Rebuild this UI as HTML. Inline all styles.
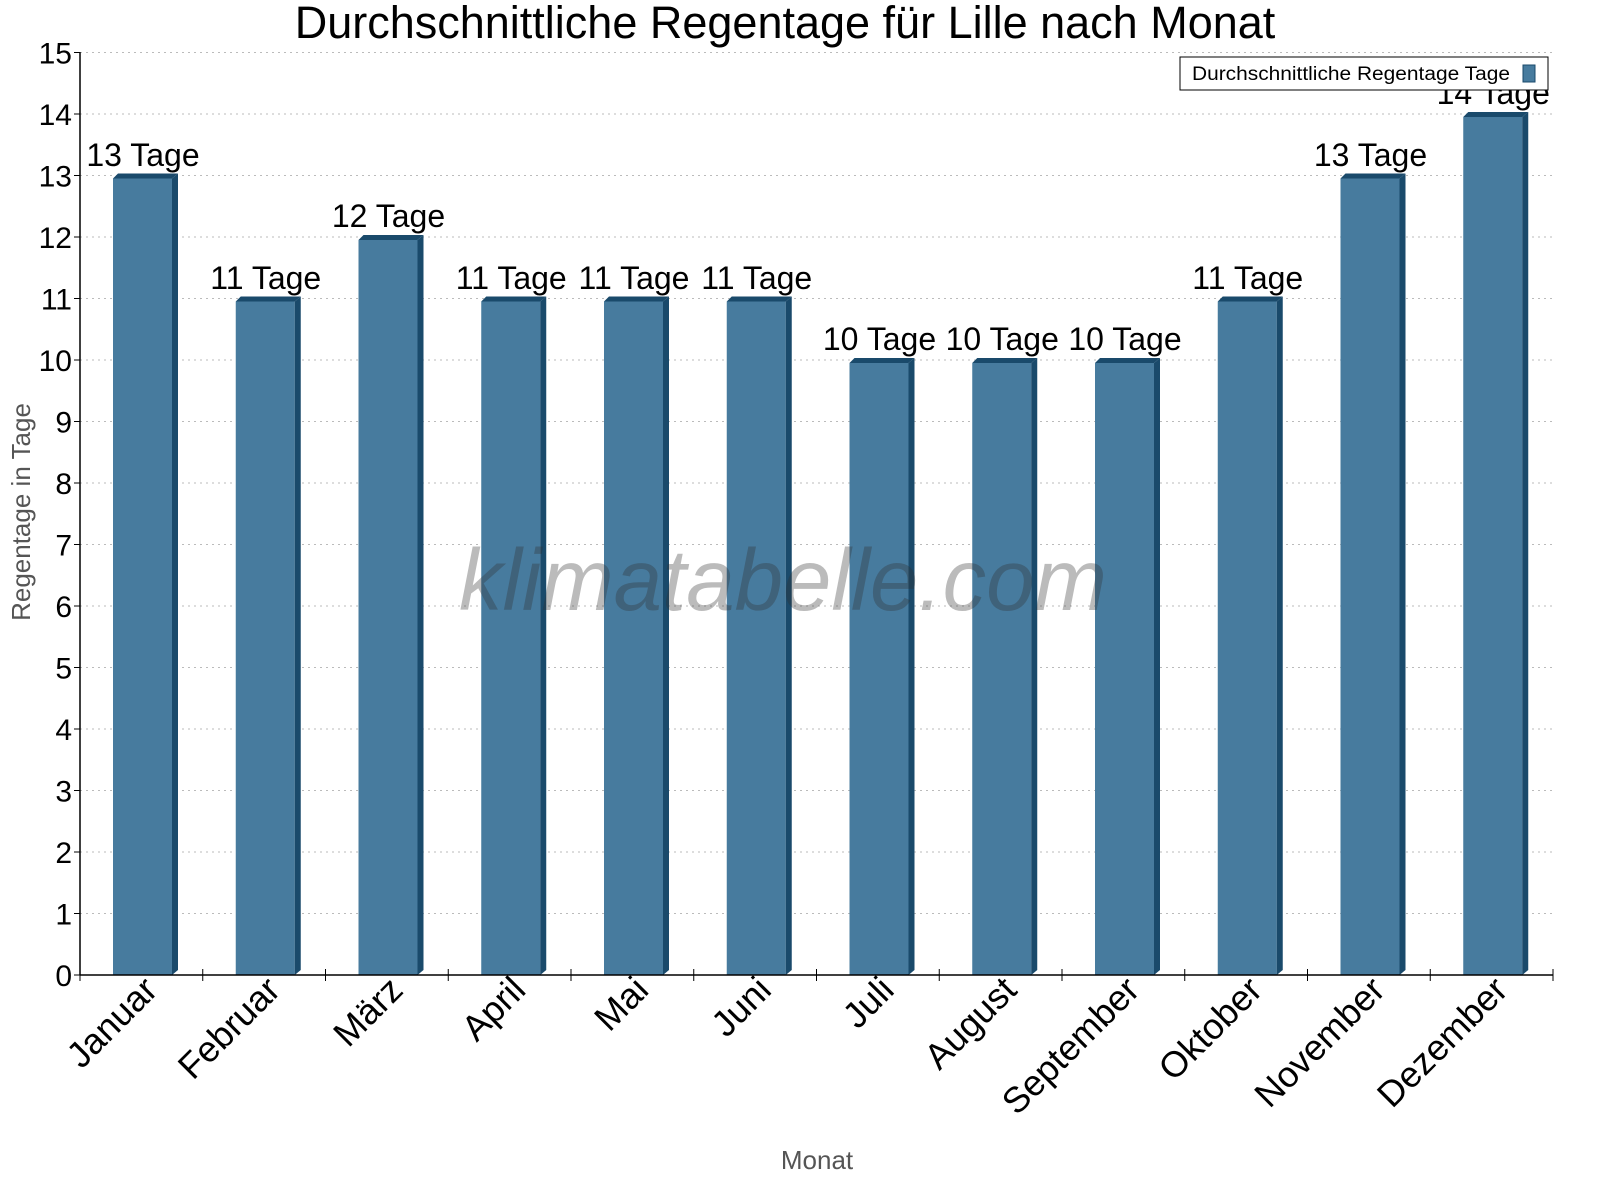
<!DOCTYPE html>
<html><head><meta charset="utf-8"><style>html,body{margin:0;padding:0;background:#fff;overflow:hidden}svg{display:block}</style></head><body>
<svg width="1600" height="1200" viewBox="0 0 1600 1200" xmlns="http://www.w3.org/2000/svg" font-family="Liberation Sans, sans-serif">
<rect width="1600" height="1200" fill="#fff"/>
<text x="785" y="38" font-size="45" text-anchor="middle" fill="#000">Durchschnittliche Regentage für Lille nach Monat</text>
<g stroke="#bbb" stroke-dasharray="2,4" stroke-width="1">
<line x1="80" x2="1553" y1="913.5" y2="913.5"/><line x1="80" x2="1553" y1="852" y2="852"/><line x1="80" x2="1553" y1="790.5" y2="790.5"/><line x1="80" x2="1553" y1="729" y2="729"/><line x1="80" x2="1553" y1="667.5" y2="667.5"/><line x1="80" x2="1553" y1="606" y2="606"/><line x1="80" x2="1553" y1="544.5" y2="544.5"/><line x1="80" x2="1553" y1="483" y2="483"/><line x1="80" x2="1553" y1="421.5" y2="421.5"/><line x1="80" x2="1553" y1="360" y2="360"/><line x1="80" x2="1553" y1="298.5" y2="298.5"/><line x1="80" x2="1553" y1="237" y2="237"/><line x1="80" x2="1553" y1="175.5" y2="175.5"/><line x1="80" x2="1553" y1="114" y2="114"/><line x1="80" x2="1553" y1="52.5" y2="52.5"/>
</g>
<g>
<g transform="translate(113,0)"><rect x="0" y="178.5" width="59" height="796.5" fill="#477b9e"/><polygon points="59,178.5 65,173.5 65,970 59,975" fill="#1a4a6b"/><polygon points="0,178.5 5,173.5 65,173.5 59,178.5" fill="#1a4a6b"/></g>
<g transform="translate(235.75,0)"><rect x="0" y="301.5" width="59" height="673.5" fill="#477b9e"/><polygon points="59,301.5 65,296.5 65,970 59,975" fill="#1a4a6b"/><polygon points="0,301.5 5,296.5 65,296.5 59,301.5" fill="#1a4a6b"/></g>
<g transform="translate(358.5,0)"><rect x="0" y="240" width="59" height="735" fill="#477b9e"/><polygon points="59,240 65,235 65,970 59,975" fill="#1a4a6b"/><polygon points="0,240 5,235 65,235 59,240" fill="#1a4a6b"/></g>
<g transform="translate(481.25,0)"><rect x="0" y="301.5" width="59" height="673.5" fill="#477b9e"/><polygon points="59,301.5 65,296.5 65,970 59,975" fill="#1a4a6b"/><polygon points="0,301.5 5,296.5 65,296.5 59,301.5" fill="#1a4a6b"/></g>
<g transform="translate(604,0)"><rect x="0" y="301.5" width="59" height="673.5" fill="#477b9e"/><polygon points="59,301.5 65,296.5 65,970 59,975" fill="#1a4a6b"/><polygon points="0,301.5 5,296.5 65,296.5 59,301.5" fill="#1a4a6b"/></g>
<g transform="translate(726.75,0)"><rect x="0" y="301.5" width="59" height="673.5" fill="#477b9e"/><polygon points="59,301.5 65,296.5 65,970 59,975" fill="#1a4a6b"/><polygon points="0,301.5 5,296.5 65,296.5 59,301.5" fill="#1a4a6b"/></g>
<g transform="translate(849.5,0)"><rect x="0" y="363" width="59" height="612" fill="#477b9e"/><polygon points="59,363 65,358 65,970 59,975" fill="#1a4a6b"/><polygon points="0,363 5,358 65,358 59,363" fill="#1a4a6b"/></g>
<g transform="translate(972.25,0)"><rect x="0" y="363" width="59" height="612" fill="#477b9e"/><polygon points="59,363 65,358 65,970 59,975" fill="#1a4a6b"/><polygon points="0,363 5,358 65,358 59,363" fill="#1a4a6b"/></g>
<g transform="translate(1095,0)"><rect x="0" y="363" width="59" height="612" fill="#477b9e"/><polygon points="59,363 65,358 65,970 59,975" fill="#1a4a6b"/><polygon points="0,363 5,358 65,358 59,363" fill="#1a4a6b"/></g>
<g transform="translate(1217.75,0)"><rect x="0" y="301.5" width="59" height="673.5" fill="#477b9e"/><polygon points="59,301.5 65,296.5 65,970 59,975" fill="#1a4a6b"/><polygon points="0,301.5 5,296.5 65,296.5 59,301.5" fill="#1a4a6b"/></g>
<g transform="translate(1340.5,0)"><rect x="0" y="178.5" width="59" height="796.5" fill="#477b9e"/><polygon points="59,178.5 65,173.5 65,970 59,975" fill="#1a4a6b"/><polygon points="0,178.5 5,173.5 65,173.5 59,178.5" fill="#1a4a6b"/></g>
<g transform="translate(1463.25,0)"><rect x="0" y="117" width="59" height="858" fill="#477b9e"/><polygon points="59,117 65,112 65,970 59,975" fill="#1a4a6b"/><polygon points="0,117 5,112 65,112 59,117" fill="#1a4a6b"/></g>
</g>
<text x="783" y="610" font-size="87" font-style="italic" text-anchor="middle" fill="rgba(50,50,50,0.33)">klimatabelle.com</text>
<g font-size="32" text-anchor="middle">
<text x="143" y="166">13 Tage</text><text x="265.75" y="289">11 Tage</text><text x="388.5" y="227">12 Tage</text><text x="511.25" y="289">11 Tage</text><text x="634" y="289">11 Tage</text><text x="756.75" y="289">11 Tage</text><text x="879.5" y="350">10 Tage</text><text x="1002.25" y="350">10 Tage</text><text x="1125" y="350">10 Tage</text><text x="1247.75" y="289">11 Tage</text><text x="1370.5" y="166">13 Tage</text><text x="1493.25" y="104">14 Tage</text>
</g>
<line x1="80" y1="52" x2="80" y2="975" stroke="#000" stroke-width="1.5"/>
<line x1="80" y1="975" x2="1553" y2="975" stroke="#000" stroke-width="1.5"/>
<g stroke="#000" stroke-width="1">
<line x1="74" x2="80" y1="975" y2="975"/><line x1="74" x2="80" y1="913.5" y2="913.5"/><line x1="74" x2="80" y1="852" y2="852"/><line x1="74" x2="80" y1="790.5" y2="790.5"/><line x1="74" x2="80" y1="729" y2="729"/><line x1="74" x2="80" y1="667.5" y2="667.5"/><line x1="74" x2="80" y1="606" y2="606"/><line x1="74" x2="80" y1="544.5" y2="544.5"/><line x1="74" x2="80" y1="483" y2="483"/><line x1="74" x2="80" y1="421.5" y2="421.5"/><line x1="74" x2="80" y1="360" y2="360"/><line x1="74" x2="80" y1="298.5" y2="298.5"/><line x1="74" x2="80" y1="237" y2="237"/><line x1="74" x2="80" y1="175.5" y2="175.5"/><line x1="74" x2="80" y1="114" y2="114"/><line x1="74" x2="80" y1="52.5" y2="52.5"/>
<line x1="80" x2="80" y1="969" y2="981"/><line x1="202.75" x2="202.75" y1="969" y2="981"/><line x1="325.5" x2="325.5" y1="969" y2="981"/><line x1="448.25" x2="448.25" y1="969" y2="981"/><line x1="571" x2="571" y1="969" y2="981"/><line x1="693.75" x2="693.75" y1="969" y2="981"/><line x1="816.5" x2="816.5" y1="969" y2="981"/><line x1="939.25" x2="939.25" y1="969" y2="981"/><line x1="1062" x2="1062" y1="969" y2="981"/><line x1="1184.75" x2="1184.75" y1="969" y2="981"/><line x1="1307.5" x2="1307.5" y1="969" y2="981"/><line x1="1430.25" x2="1430.25" y1="969" y2="981"/><line x1="1553" x2="1553" y1="969" y2="981"/>
</g>
<g font-size="30" text-anchor="end">
<text x="72" y="986">0</text><text x="72" y="924.5">1</text><text x="72" y="863">2</text><text x="72" y="801.5">3</text><text x="72" y="740">4</text><text x="72" y="678.5">5</text><text x="72" y="617">6</text><text x="72" y="555.5">7</text><text x="72" y="494">8</text><text x="72" y="432.5">9</text><text x="72" y="371">10</text><text x="72" y="309.5">11</text><text x="72" y="248">12</text><text x="72" y="186.5">13</text><text x="72" y="125">14</text><text x="72" y="63.5">15</text>
</g>
<g font-size="36" text-anchor="end">
<text transform="translate(159.4,992) rotate(-45)">Januar</text>
<text transform="translate(282.1,992) rotate(-45)">Februar</text>
<text transform="translate(404.9,992) rotate(-45)">März</text>
<text transform="translate(527.6,992) rotate(-45)">April</text>
<text transform="translate(650.4,992) rotate(-45)">Mai</text>
<text transform="translate(773.1,992) rotate(-45)">Juni</text>
<text transform="translate(895.9,992) rotate(-45)">Juli</text>
<text transform="translate(1018.6,992) rotate(-45)">August</text>
<text transform="translate(1141.4,992) rotate(-45)">September</text>
<text transform="translate(1264.1,992) rotate(-45)">Oktober</text>
<text transform="translate(1386.9,992) rotate(-45)">November</text>
<text transform="translate(1509.6,992) rotate(-45)">Dezember</text>
</g>
<text transform="translate(30,512) rotate(-90)" font-size="26" text-anchor="middle" fill="#555">Regentage in Tage</text>
<text x="817" y="1169" font-size="26" text-anchor="middle" fill="#555">Monat</text>
<rect x="1180" y="57" width="368" height="33" fill="#fff" stroke="#000" stroke-width="1"/>
<text x="1192" y="80" font-size="19" textLength="318" lengthAdjust="spacingAndGlyphs">Durchschnittliche Regentage Tage</text>
<rect x="1523" y="65" width="12" height="17" fill="#477b9e" stroke="#1a4a6b"/>
</svg>
</body></html>
